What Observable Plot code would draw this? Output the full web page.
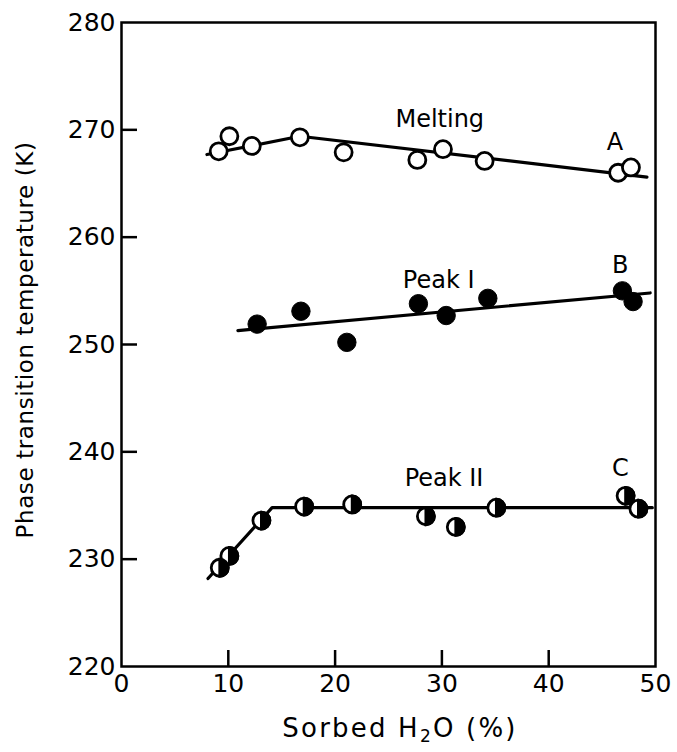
<!DOCTYPE html>
<html><head><meta charset="utf-8">
<script src="https://cdn.jsdelivr.net/npm/d3@7"></script>
<script src="https://cdn.jsdelivr.net/npm/@observablehq/plot@0.6"></script>
<style>body{margin:0;background:#fff;} svg{font-family:"DejaVu Sans",sans-serif;}</style>
</head><body><div id="chart"></div>
<script>
// Melting (open circles, series A)
const meltX = [9.1, 10.1, 12.2, 16.7, 20.8, 27.7, 30.1, 34.0, 46.5, 47.7];
const meltT = [268.0, 269.4, 268.5, 269.3, 267.9, 267.2, 268.2, 267.1, 266.0, 266.5];
const meltLineX = [8.0, 16.7, 49.2];
const meltLineT = [267.7, 269.4, 265.6];
// Peak I (filled circles, series B)
const peak1X = [12.7, 16.8, 21.1, 27.8, 30.4, 34.3, 46.9, 47.9];
const peak1T = [251.9, 253.1, 250.2, 253.8, 252.7, 254.3, 255.0, 254.0];
const peak1LineX = [10.9, 49.5];
const peak1LineT = [251.3, 254.8];
// Peak II (half-filled circles, series C)
const peak2X = [9.2, 10.1, 13.1, 17.1, 21.6, 28.5, 31.3, 35.1, 47.2, 48.4];
const peak2T = [229.2, 230.3, 233.6, 234.9, 235.1, 234.0, 233.0, 234.8, 235.9, 234.7];
const peak2LineX = [8.1, 14.1, 49.7];
const peak2LineT = [228.2, 234.8, 234.8];
// Annotations
const labelText = ["Melting", "A", "Peak I", "B", "Peak II", "C"];
const labelX = [29.8, 46.2, 29.7, 46.7, 30.2, 46.7];
const labelT = [271.0, 268.8, 256.0, 257.4, 237.5, 238.5];
// Axes
const xTicks = [0, 10, 20, 30, 40, 50];
const xTickMarks = [10, 20, 30, 40];
const yTicks = [220, 230, 240, 250, 260, 270, 280];
const yTickMarks = [230, 240, 250, 260, 270];
const xTitleParts = ["Sorbed H", "2", "O (%)"];
const yTitle = "Phase transition temperature (K)";

const zip = (xs, ys) => xs.map((x, i) => ({x, y: ys[i]}));
const melt = zip(meltX, meltT), p1 = zip(peak1X, peak1T), p2 = zip(peak2X, peak2T);
const labels = labelText.map((t, i) => ({t, x: labelX[i], y: labelT[i]}));

const rightHalf = {
  draw(ctx, size) {
    const r = Math.sqrt(size / Math.PI);
    ctx.moveTo(0, -r);
    ctx.arc(0, 0, r, -Math.PI / 2, Math.PI / 2);
    ctx.closePath();
  }
};

const chart = Plot.plot({
  width: 677, height: 752,
  marginLeft: 121, marginRight: 22, marginTop: 22, marginBottom: 86,
  style: {fontFamily: "DejaVu Sans, sans-serif", background: "#fff"},
  x: {domain: [0, 50]},
  y: {domain: [220, 280]},
  marks: [
    Plot.axisX(xTicks, {tickSize: 0, tickPadding: 8, fontSize: 25, label: null, tickFormat: d => String(d)}),
    Plot.axisX(xTickMarks, {tickSize: -16, strokeWidth: 2.5, fill: "none", label: null}),
    Plot.axisY(yTicks, {tickSize: 0, tickPadding: 6, fontSize: 25, label: null, tickFormat: d => String(d)}),
    Plot.axisY(yTickMarks, {tickSize: -16, strokeWidth: 2.5, fill: "none", label: null}),
    Plot.frame({stroke: "black", strokeWidth: 2.5}),
    Plot.line(zip(meltLineX, meltLineT), {x: "x", y: "y", stroke: "black", strokeWidth: 3.2}),
    Plot.line(zip(peak1LineX, peak1LineT), {x: "x", y: "y", stroke: "black", strokeWidth: 3.2}),
    Plot.line(zip(peak2LineX, peak2LineT), {x: "x", y: "y", stroke: "black", strokeWidth: 3.2}),
    Plot.dot(melt, {x: "x", y: "y", r: 8.5, fill: "white", stroke: "black", strokeWidth: 2.8}),
    Plot.dot(p1, {x: "x", y: "y", r: 9.2, fill: "black", stroke: "black", strokeWidth: 1}),
    Plot.dot(p2, {x: "x", y: "y", r: 8.5, fill: "white", stroke: "black", strokeWidth: 2.8}),
    Plot.dot(p2, {x: "x", y: "y", r: 8.5, symbol: rightHalf, fill: "black", stroke: "black", strokeWidth: 2.8}),
    Plot.text(labels, {x: "x", y: "y", text: "t", fontSize: 24, fill: "black", textAnchor: "middle"})
  ]
});

const svg = d3.select(chart);
const xt = svg.append("text")
  .attr("x", 400).attr("y", 737)
  .attr("text-anchor", "middle")
  .attr("font-size", 26).attr("letter-spacing", 2.2)
  .attr("fill", "black");
xt.append("tspan").text(xTitleParts[0]);
xt.append("tspan").attr("dy", 5).attr("font-size", 17).text(xTitleParts[1]);
xt.append("tspan").attr("dy", -5).text(xTitleParts[2]);
svg.append("text")
  .attr("transform", "translate(26,340) rotate(-90)")
  .attr("text-anchor", "middle").attr("dominant-baseline", "middle")
  .attr("font-size", 23).attr("letter-spacing", 0.6)
  .attr("fill", "black")
  .text(yTitle);

document.getElementById("chart").appendChild(chart);
</script>
</body></html>
